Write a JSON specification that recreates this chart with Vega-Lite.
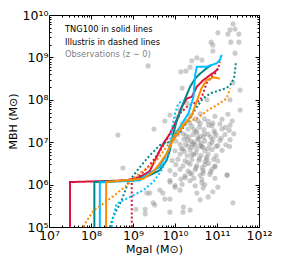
{
  "$schema": "https://vega.github.io/schema/vega-lite/v6.json",
  "width": 210,
  "height": 212,
  "autosize": "none",
  "padding": {"left": 49, "top": 15, "right": 26, "bottom": 32},
  "config": {
    "font": "DejaVu Sans",
    "view": {"stroke": null},
    "axis": {"grid": false, "domainColor": "black", "tickColor": "black", "labelColor": "black", "titleColor": "black", "labelFont": "DejaVu Sans", "titleFont": "DejaVu Sans", "titleFontWeight": "normal", "domainWidth": 1, "tickWidth": 1, "labelFlush": false, "labelOverlap": false, "labelBound": false}
  },
  "datasets": {
    "obs": [
      {"m": 11.38, "b": 9.79}, {"m": 11.31, "b": 9.65}, {"m": 11.43, "b": 9.67}, {"m": 11.26, "b": 9.55}, {"m": 11.52, "b": 9.55},
      {"m": 11.02, "b": 9.58}, {"m": 10.86, "b": 9.36}, {"m": 10.90, "b": 9.29}, {"m": 11.33, "b": 9.36}, {"m": 11.52, "b": 9.36},
      {"m": 10.90, "b": 9.15}, {"m": 11.43, "b": 9.10}, {"m": 10.52, "b": 8.99}, {"m": 10.40, "b": 8.92}, {"m": 10.64, "b": 8.94},
      {"m": 10.26, "b": 8.68}, {"m": 10.14, "b": 8.66}, {"m": 10.36, "b": 8.77}, {"m": 9.36, "b": 8.80}, {"m": 11.38, "b": 8.40},
      {"m": 11.55, "b": 8.23}, {"m": 10.17, "b": 8.28}, {"m": 10.29, "b": 7.92}, {"m": 10.76, "b": 8.00}, {"m": 11.31, "b": 8.00},
      {"m": 11.55, "b": 7.76}, {"m": 10.12, "b": 7.76}, {"m": 10.05, "b": 7.59}, {"m": 9.88, "b": 7.64}, {"m": 9.50, "b": 7.31},
      {"m": 9.76, "b": 7.50}, {"m": 8.64, "b": 7.17}, {"m": 8.76, "b": 6.39}, {"m": 10.00, "b": 7.24},
      {"m": 10.36, "b": 7.62}, {"m": 10.60, "b": 7.67}, {"m": 10.95, "b": 7.61}, {"m": 11.26, "b": 7.66},
      {"m": 10.24, "b": 7.50}, {"m": 10.48, "b": 7.55}, {"m": 10.79, "b": 7.49}, {"m": 11.12, "b": 7.54}, {"m": 11.36, "b": 7.50},
      {"m": 10.17, "b": 7.43}, {"m": 10.40, "b": 7.38}, {"m": 10.60, "b": 7.44}, {"m": 10.88, "b": 7.39}, {"m": 11.07, "b": 7.43}, {"m": 11.31, "b": 7.40},
      {"m": 10.12, "b": 7.27}, {"m": 10.31, "b": 7.31}, {"m": 10.50, "b": 7.26}, {"m": 10.69, "b": 7.30}, {"m": 10.93, "b": 7.27}, {"m": 11.12, "b": 7.31}, {"m": 11.29, "b": 7.28},
      {"m": 10.07, "b": 7.19}, {"m": 10.26, "b": 7.15}, {"m": 10.43, "b": 7.18}, {"m": 10.60, "b": 7.14}, {"m": 10.79, "b": 7.19}, {"m": 10.98, "b": 7.16}, {"m": 11.19, "b": 7.18},
      {"m": 10.02, "b": 7.03}, {"m": 10.21, "b": 7.07}, {"m": 10.38, "b": 7.02}, {"m": 10.55, "b": 7.06}, {"m": 10.71, "b": 7.03}, {"m": 10.90, "b": 7.07}, {"m": 11.07, "b": 7.04}, {"m": 11.31, "b": 7.06},
      {"m": 10.12, "b": 6.95}, {"m": 10.31, "b": 6.91}, {"m": 10.48, "b": 6.94}, {"m": 10.64, "b": 6.90}, {"m": 10.83, "b": 6.95}, {"m": 11.02, "b": 6.92}, {"m": 11.21, "b": 6.94},
      {"m": 10.00, "b": 6.80}, {"m": 10.19, "b": 6.84}, {"m": 10.36, "b": 6.81}, {"m": 10.52, "b": 6.84}, {"m": 10.71, "b": 6.80}, {"m": 10.88, "b": 6.83}, {"m": 11.12, "b": 6.81},
      {"m": 10.12, "b": 6.72}, {"m": 10.29, "b": 6.68}, {"m": 10.45, "b": 6.71}, {"m": 10.62, "b": 6.69}, {"m": 10.79, "b": 6.72}, {"m": 10.98, "b": 6.68},
      {"m": 9.93, "b": 6.57}, {"m": 10.07, "b": 6.60}, {"m": 10.24, "b": 6.56}, {"m": 10.40, "b": 6.59}, {"m": 10.57, "b": 6.57}, {"m": 10.76, "b": 6.60}, {"m": 11.02, "b": 6.56},
      {"m": 10.02, "b": 6.47}, {"m": 10.19, "b": 6.44}, {"m": 10.36, "b": 6.48}, {"m": 10.52, "b": 6.45}, {"m": 10.71, "b": 6.47}, {"m": 10.95, "b": 6.44},
      {"m": 9.88, "b": 6.33}, {"m": 10.12, "b": 6.36}, {"m": 10.31, "b": 6.32}, {"m": 10.48, "b": 6.35}, {"m": 10.67, "b": 6.33}, {"m": 10.88, "b": 6.36},
      {"m": 10.00, "b": 6.24}, {"m": 10.24, "b": 6.21}, {"m": 10.40, "b": 6.25}, {"m": 10.60, "b": 6.22}, {"m": 10.83, "b": 6.24}, {"m": 11.24, "b": 6.22},
      {"m": 9.88, "b": 6.10}, {"m": 10.14, "b": 6.13}, {"m": 10.36, "b": 6.09}, {"m": 10.64, "b": 6.12},
      {"m": 10.00, "b": 5.98}, {"m": 10.17, "b": 6.01}, {"m": 10.48, "b": 5.97}, {"m": 10.71, "b": 6.00},
      {"m": 10.55, "b": 7.10}, {"m": 10.62, "b": 6.98}, {"m": 10.70, "b": 7.20}, {"m": 10.45, "b": 7.00}, {"m": 10.50, "b": 6.75},
      {"m": 10.66, "b": 6.88}, {"m": 10.58, "b": 7.35}, {"m": 10.85, "b": 7.12}, {"m": 10.95, "b": 7.22}, {"m": 10.40, "b": 6.88},
      {"m": 10.30, "b": 7.05}, {"m": 10.75, "b": 6.65}, {"m": 10.45, "b": 7.30}, {"m": 10.25, "b": 6.95}, {"m": 10.80, "b": 7.40},
      {"m": 10.33, "b": 7.12}, {"m": 10.52, "b": 7.22}, {"m": 10.68, "b": 7.12}, {"m": 10.88, "b": 7.00}, {"m": 10.40, "b": 6.70},
      {"m": 10.58, "b": 6.62}, {"m": 10.72, "b": 6.55}, {"m": 10.30, "b": 6.52}, {"m": 10.50, "b": 6.40}, {"m": 10.65, "b": 6.40},
      {"m": 10.80, "b": 6.50}, {"m": 10.92, "b": 6.60}, {"m": 10.22, "b": 6.78}, {"m": 10.42, "b": 6.95}, {"m": 10.60, "b": 6.92},
      {"m": 10.78, "b": 6.85}, {"m": 10.98, "b": 6.90}, {"m": 11.10, "b": 7.10}, {"m": 11.20, "b": 7.35}, {"m": 10.90, "b": 7.45},
      {"m": 10.70, "b": 7.55}, {"m": 10.55, "b": 7.50}, {"m": 10.35, "b": 7.45}, {"m": 10.20, "b": 7.20}, {"m": 10.15, "b": 6.85},
      {"m": 11.30, "b": 6.90}, {"m": 11.40, "b": 7.20}, {"m": 10.85, "b": 6.30}, {"m": 10.45, "b": 6.15}, {"m": 10.95, "b": 6.15},
      {"m": 9.88, "b": 6.06}, {"m": 10.00, "b": 5.94}, {"m": 10.12, "b": 5.87}, {"m": 9.40, "b": 5.80}, {"m": 9.33, "b": 5.80},
      {"m": 9.71, "b": 5.80}, {"m": 9.76, "b": 5.66}, {"m": 9.88, "b": 5.66}, {"m": 9.52, "b": 5.52}, {"m": 9.07, "b": 5.42},
      {"m": 9.29, "b": 5.42}, {"m": 9.29, "b": 5.31}, {"m": 9.88, "b": 5.35}, {"m": 10.19, "b": 5.35}, {"m": 10.36, "b": 5.40},
      {"m": 10.90, "b": 5.83}, {"m": 10.67, "b": 5.92}, {"m": 10.52, "b": 5.80}, {"m": 11.24, "b": 6.23}, {"m": 10.95, "b": 6.42},
      {"m": 10.67, "b": 6.27}, {"m": 10.36, "b": 6.27}, {"m": 10.24, "b": 6.16}, {"m": 10.64, "b": 6.04}, {"m": 10.60, "b": 5.64},
      {"m": 10.79, "b": 5.71}, {"m": 11.02, "b": 5.94}, {"m": 11.38, "b": 5.57}, {"m": 9.48, "b": 5.57}, {"m": 9.64, "b": 5.87},
      {"m": 10.20, "b": 5.47}
    ],
    "sims": [
      {"h": "a", "s": "TNG100", "i": 0, "x": 7.50, "y": 5.00}, {"h": "a", "s": "TNG100", "i": 1, "x": 7.50, "y": 6.06},
      {"h": "a", "s": "TNG100", "i": 2, "x": 8.21, "y": 6.08}, {"h": "a", "s": "TNG100", "i": 3, "x": 8.85, "y": 6.10},
      {"h": "a", "s": "TNG100", "i": 4, "x": 9.17, "y": 6.18}, {"h": "a", "s": "TNG100", "i": 5, "x": 9.40, "y": 6.32},
      {"h": "a", "s": "TNG100", "i": 6, "x": 9.56, "y": 6.65}, {"h": "a", "s": "TNG100", "i": 7, "x": 9.72, "y": 6.97},
      {"h": "a", "s": "TNG100", "i": 8, "x": 9.88, "y": 7.20}, {"h": "a", "s": "TNG100", "i": 9, "x": 10.04, "y": 7.52},
      {"h": "a", "s": "TNG100", "i": 10, "x": 10.16, "y": 7.83}, {"h": "a", "s": "TNG100", "i": 11, "x": 10.28, "y": 8.03},
      {"h": "a", "s": "TNG100", "i": 12, "x": 10.40, "y": 8.07}, {"h": "a", "s": "TNG100", "i": 13, "x": 10.52, "y": 8.31},
      {"h": "a", "s": "TNG100", "i": 14, "x": 10.67, "y": 8.46}, {"h": "a", "s": "TNG100", "i": 15, "x": 10.83, "y": 8.58},
      {"h": "a", "s": "TNG100", "i": 16, "x": 10.95, "y": 8.66}, {"h": "a", "s": "TNG100", "i": 17, "x": 11.03, "y": 8.74},

      {"h": "a", "s": "Illustris", "i": 0, "x": 8.97, "y": 5.00}, {"h": "a", "s": "Illustris", "i": 1, "x": 8.97, "y": 6.08},
      {"h": "a", "s": "Illustris", "i": 2, "x": 9.17, "y": 6.22}, {"h": "a", "s": "Illustris", "i": 3, "x": 9.40, "y": 6.46},
      {"h": "a", "s": "Illustris", "i": 4, "x": 9.60, "y": 6.73}, {"h": "a", "s": "Illustris", "i": 5, "x": 9.80, "y": 7.05},
      {"h": "a", "s": "Illustris", "i": 6, "x": 9.96, "y": 7.36}, {"h": "a", "s": "Illustris", "i": 7, "x": 10.12, "y": 7.68},
      {"h": "a", "s": "Illustris", "i": 8, "x": 10.28, "y": 7.83}, {"h": "a", "s": "Illustris", "i": 9, "x": 10.44, "y": 7.91},
      {"h": "a", "s": "Illustris", "i": 10, "x": 10.60, "y": 7.99}, {"h": "a", "s": "Illustris", "i": 11, "x": 10.67, "y": 8.15},
      {"h": "a", "s": "Illustris", "i": 12, "x": 10.75, "y": 8.39}, {"h": "a", "s": "Illustris", "i": 13, "x": 10.87, "y": 8.54},
      {"h": "a", "s": "Illustris", "i": 14, "x": 10.95, "y": 8.62}, {"h": "a", "s": "Illustris", "i": 15, "x": 11.03, "y": 8.74},
      {"h": "a", "s": "Illustris", "i": 16, "x": 11.07, "y": 8.90},

      {"h": "b", "s": "TNG100", "i": 0, "x": 8.08, "y": 5.00}, {"h": "b", "s": "TNG100", "i": 1, "x": 8.08, "y": 6.06},
      {"h": "b", "s": "TNG100", "i": 2, "x": 8.53, "y": 6.08}, {"h": "b", "s": "TNG100", "i": 3, "x": 9.01, "y": 6.10},
      {"h": "b", "s": "TNG100", "i": 4, "x": 9.40, "y": 6.22}, {"h": "b", "s": "TNG100", "i": 5, "x": 9.64, "y": 6.34},
      {"h": "b", "s": "TNG100", "i": 6, "x": 9.80, "y": 6.57}, {"h": "b", "s": "TNG100", "i": 7, "x": 9.88, "y": 6.81},
      {"h": "b", "s": "TNG100", "i": 8, "x": 9.92, "y": 7.05}, {"h": "b", "s": "TNG100", "i": 9, "x": 9.96, "y": 7.20},
      {"h": "b", "s": "TNG100", "i": 10, "x": 10.04, "y": 7.50}, {"h": "b", "s": "TNG100", "i": 11, "x": 10.16, "y": 7.83},
      {"h": "b", "s": "TNG100", "i": 12, "x": 10.28, "y": 8.12}, {"h": "b", "s": "TNG100", "i": 13, "x": 10.36, "y": 8.31},
      {"h": "b", "s": "TNG100", "i": 14, "x": 10.48, "y": 8.50}, {"h": "b", "s": "TNG100", "i": 15, "x": 10.60, "y": 8.62},
      {"h": "b", "s": "TNG100", "i": 16, "x": 10.75, "y": 8.74}, {"h": "b", "s": "TNG100", "i": 17, "x": 10.87, "y": 8.82},

      {"h": "b", "s": "Illustris", "i": 0, "x": 8.45, "y": 5.00}, {"h": "b", "s": "Illustris", "i": 1, "x": 8.53, "y": 5.24},
      {"h": "b", "s": "Illustris", "i": 2, "x": 8.73, "y": 5.63}, {"h": "b", "s": "Illustris", "i": 3, "x": 8.89, "y": 6.06},
      {"h": "b", "s": "Illustris", "i": 4, "x": 9.17, "y": 6.42}, {"h": "b", "s": "Illustris", "i": 5, "x": 9.40, "y": 6.69},
      {"h": "b", "s": "Illustris", "i": 6, "x": 9.64, "y": 6.93}, {"h": "b", "s": "Illustris", "i": 7, "x": 9.88, "y": 7.01},
      {"h": "b", "s": "Illustris", "i": 8, "x": 10.12, "y": 7.24}, {"h": "b", "s": "Illustris", "i": 9, "x": 10.36, "y": 7.57},
      {"h": "b", "s": "Illustris", "i": 10, "x": 10.52, "y": 7.83}, {"h": "b", "s": "Illustris", "i": 11, "x": 10.67, "y": 8.04},
      {"h": "b", "s": "Illustris", "i": 12, "x": 10.87, "y": 8.16}, {"h": "b", "s": "Illustris", "i": 13, "x": 11.23, "y": 8.28},
      {"h": "b", "s": "Illustris", "i": 14, "x": 11.35, "y": 8.39}, {"h": "b", "s": "Illustris", "i": 15, "x": 11.41, "y": 8.54},
      {"h": "b", "s": "Illustris", "i": 16, "x": 11.44, "y": 8.78}, {"h": "b", "s": "Illustris", "i": 17, "x": 11.45, "y": 8.90},

      {"h": "c", "s": "TNG100", "i": 0, "x": 8.21, "y": 5.00}, {"h": "c", "s": "TNG100", "i": 1, "x": 8.21, "y": 6.05},
      {"h": "c", "s": "TNG100", "i": 2, "x": 9.17, "y": 6.10}, {"h": "c", "s": "TNG100", "i": 3, "x": 9.25, "y": 6.18},
      {"h": "c", "s": "TNG100", "i": 4, "x": 9.64, "y": 6.42}, {"h": "c", "s": "TNG100", "i": 5, "x": 9.84, "y": 6.81},
      {"h": "c", "s": "TNG100", "i": 6, "x": 9.96, "y": 7.13}, {"h": "c", "s": "TNG100", "i": 7, "x": 10.12, "y": 7.36},
      {"h": "c", "s": "TNG100", "i": 8, "x": 10.32, "y": 7.68}, {"h": "c", "s": "TNG100", "i": 9, "x": 10.44, "y": 8.07},
      {"h": "c", "s": "TNG100", "i": 10, "x": 10.48, "y": 8.58}, {"h": "c", "s": "TNG100", "i": 11, "x": 10.52, "y": 8.78},
      {"h": "c", "s": "TNG100", "i": 12, "x": 10.75, "y": 8.78}, {"h": "c", "s": "TNG100", "i": 13, "x": 10.99, "y": 8.86},
      {"h": "c", "s": "TNG100", "i": 14, "x": 11.07, "y": 8.94}, {"h": "c", "s": "TNG100", "i": 15, "x": 11.11, "y": 9.06},

      {"h": "c", "s": "Illustris", "i": 0, "x": 8.49, "y": 5.00}, {"h": "c", "s": "Illustris", "i": 1, "x": 8.53, "y": 5.24},
      {"h": "c", "s": "Illustris", "i": 2, "x": 8.61, "y": 5.55}, {"h": "c", "s": "Illustris", "i": 3, "x": 8.93, "y": 5.71},
      {"h": "c", "s": "Illustris", "i": 4, "x": 9.25, "y": 5.87}, {"h": "c", "s": "Illustris", "i": 5, "x": 9.48, "y": 6.06},
      {"h": "c", "s": "Illustris", "i": 6, "x": 9.68, "y": 6.34}, {"h": "c", "s": "Illustris", "i": 7, "x": 9.84, "y": 6.73},
      {"h": "c", "s": "Illustris", "i": 8, "x": 9.92, "y": 7.28}, {"h": "c", "s": "Illustris", "i": 9, "x": 10.00, "y": 7.68},
      {"h": "c", "s": "Illustris", "i": 10, "x": 10.08, "y": 7.91}, {"h": "c", "s": "Illustris", "i": 11, "x": 10.20, "y": 7.99},

      {"h": "d", "s": "TNG100", "i": 0, "x": 8.36, "y": 5.00}, {"h": "d", "s": "TNG100", "i": 1, "x": 8.36, "y": 6.06},
      {"h": "d", "s": "TNG100", "i": 2, "x": 9.25, "y": 6.14}, {"h": "d", "s": "TNG100", "i": 3, "x": 9.48, "y": 6.30},
      {"h": "d", "s": "TNG100", "i": 4, "x": 9.64, "y": 6.50}, {"h": "d", "s": "TNG100", "i": 5, "x": 9.80, "y": 6.73},
      {"h": "d", "s": "TNG100", "i": 6, "x": 9.96, "y": 7.05}, {"h": "d", "s": "TNG100", "i": 7, "x": 10.12, "y": 7.28},
      {"h": "d", "s": "TNG100", "i": 8, "x": 10.40, "y": 7.64}, {"h": "d", "s": "TNG100", "i": 9, "x": 10.63, "y": 8.27},
      {"h": "d", "s": "TNG100", "i": 10, "x": 10.75, "y": 8.46}, {"h": "d", "s": "TNG100", "i": 11, "x": 10.91, "y": 8.53},
      {"h": "d", "s": "TNG100", "i": 12, "x": 11.07, "y": 8.50},

      {"h": "d", "s": "Illustris", "i": 0, "x": 7.82, "y": 5.00}, {"h": "d", "s": "Illustris", "i": 1, "x": 7.91, "y": 5.16},
      {"h": "d", "s": "Illustris", "i": 2, "x": 8.06, "y": 5.39}, {"h": "d", "s": "Illustris", "i": 3, "x": 8.29, "y": 5.55},
      {"h": "d", "s": "Illustris", "i": 4, "x": 8.61, "y": 5.79}, {"h": "d", "s": "Illustris", "i": 5, "x": 8.85, "y": 5.98},
      {"h": "d", "s": "Illustris", "i": 6, "x": 9.09, "y": 6.22}, {"h": "d", "s": "Illustris", "i": 7, "x": 9.33, "y": 6.38},
      {"h": "d", "s": "Illustris", "i": 8, "x": 9.56, "y": 6.57}, {"h": "d", "s": "Illustris", "i": 9, "x": 9.80, "y": 6.89},
      {"h": "d", "s": "Illustris", "i": 10, "x": 9.96, "y": 7.13}, {"h": "d", "s": "Illustris", "i": 11, "x": 10.20, "y": 7.44},
      {"h": "d", "s": "Illustris", "i": 12, "x": 10.52, "y": 7.56}, {"h": "d", "s": "Illustris", "i": 13, "x": 10.79, "y": 7.76},
      {"h": "d", "s": "Illustris", "i": 14, "x": 10.99, "y": 7.87}, {"h": "d", "s": "Illustris", "i": 15, "x": 11.23, "y": 8.03},
      {"h": "d", "s": "Illustris", "i": 16, "x": 11.31, "y": 8.27}
    ],
    "notes": [
      {"note": "TNG100 in solid lines", "x": 7.38, "y": 9.65, "kind": "sim"},
      {"note": "Illustris in dashed lines", "x": 7.38, "y": 9.35, "kind": "sim"},
      {"note": "Observations (z ∼ 0)", "x": 7.38, "y": 9.06, "kind": "obs"}
    ]
  },
  "layer": [
    {
      "data": {"name": "obs"},
      "mark": {"type": "circle", "size": 26, "color": "#808080", "opacity": 0.4},
      "encoding": {
        "x": {"field": "m", "type": "quantitative", "scale": {"domain": [7, 12], "nice": false, "zero": false},
          "axis": {"orient": "bottom", "values": [7, 8, 9, 10, 11, 12], "labelExpr": "'10' + ['⁰','¹','²','³','⁴','⁵','⁶','⁷','⁸','⁹','¹⁰','¹¹','¹²'][datum.value]", "tickSize": -4, "labelPadding": 6, "labelFontSize": 12.5, "title": "Mgal (M⊙)", "titleFontSize": 11, "titlePadding": 2}},
        "y": {"field": "b", "type": "quantitative", "scale": {"domain": [5, 10], "nice": false, "zero": false},
          "axis": {"orient": "left", "values": [5, 6, 7, 8, 9, 10], "labelExpr": "'10' + ['⁰','¹','²','³','⁴','⁵','⁶','⁷','⁸','⁹','¹⁰','¹¹','¹²'][datum.value]", "tickSize": -4, "labelPadding": 5, "labelFontSize": 12.5, "title": "MBH (M⊙)", "titleFontSize": 11, "titlePadding": 4}}
      }
    },
    {
      "data": {"name": "sims"},
      "mark": {"type": "line", "strokeWidth": 2, "strokeCap": "butt"},
      "encoding": {
        "x": {"field": "x", "type": "quantitative", "scale": {"domain": [7, 12], "nice": false, "zero": false},
          "axis": {"orient": "bottom", "values": [7.301, 7.477, 7.602, 7.699, 7.778, 7.845, 7.903, 7.954, 8.301, 8.477, 8.602, 8.699, 8.778, 8.845, 8.903, 8.954, 9.301, 9.477, 9.602, 9.699, 9.778, 9.845, 9.903, 9.954, 10.301, 10.477, 10.602, 10.699, 10.778, 10.845, 10.903, 10.954, 11.301, 11.477, 11.602, 11.699, 11.778, 11.845, 11.903, 11.954], "labels": false, "tickSize": -2, "domain": false, "title": null}},
        "y": {"field": "y", "type": "quantitative", "scale": {"domain": [5, 10], "nice": false, "zero": false},
          "axis": {"orient": "left", "values": [5.301, 5.477, 5.602, 5.699, 5.778, 5.845, 5.903, 5.954, 6.301, 6.477, 6.602, 6.699, 6.778, 6.845, 6.903, 6.954, 7.301, 7.477, 7.602, 7.699, 7.778, 7.845, 7.903, 7.954, 8.301, 8.477, 8.602, 8.699, 8.778, 8.845, 8.903, 8.954, 9.301, 9.477, 9.602, 9.699, 9.778, 9.845, 9.903, 9.954], "labels": false, "tickSize": -2, "domain": false, "title": null}},
        "order": {"field": "i", "type": "quantitative"},
        "color": {"field": "h", "type": "nominal", "scale": {"domain": ["a", "b", "c", "d"], "range": ["#DC143C", "#00878A", "#00BFFF", "#FF8C00"]}, "legend": null},
        "strokeDash": {"field": "s", "type": "nominal", "scale": {"domain": ["TNG100", "Illustris"], "range": [[1, 0], [2, 2.2]]}, "legend": null}
      }
    },
    {
      "data": {"name": "notes"},
      "mark": {"type": "text", "align": "left", "baseline": "middle", "fontSize": 8.3, "font": "DejaVu Sans"},
      "encoding": {
        "x": {"field": "x", "type": "quantitative", "scale": {"domain": [7, 12], "nice": false, "zero": false},
          "axis": {"orient": "top", "values": [7, 8, 9, 10, 11, 12], "labels": false, "tickSize": -4, "title": null}},
        "y": {"field": "y", "type": "quantitative", "scale": {"domain": [5, 10], "nice": false, "zero": false},
          "axis": {"orient": "right", "values": [5, 6, 7, 8, 9, 10], "labels": false, "tickSize": -4, "title": null}},
        "text": {"field": "note"},
        "color": {"condition": {"test": "datum.kind == 'obs'", "value": "#7f7f7f"}, "value": "black"}
      }
    },
    {
      "data": {"name": "notes"},
      "mark": {"type": "point", "opacity": 0},
      "encoding": {
        "x": {"field": "x", "type": "quantitative", "scale": {"domain": [7, 12], "nice": false, "zero": false},
          "axis": {"orient": "top", "values": [7.301, 7.477, 7.602, 7.699, 7.778, 7.845, 7.903, 7.954, 8.301, 8.477, 8.602, 8.699, 8.778, 8.845, 8.903, 8.954, 9.301, 9.477, 9.602, 9.699, 9.778, 9.845, 9.903, 9.954, 10.301, 10.477, 10.602, 10.699, 10.778, 10.845, 10.903, 10.954, 11.301, 11.477, 11.602, 11.699, 11.778, 11.845, 11.903, 11.954], "labels": false, "tickSize": -2, "domain": false, "title": null}},
        "y": {"field": "y", "type": "quantitative", "scale": {"domain": [5, 10], "nice": false, "zero": false},
          "axis": {"orient": "right", "values": [5.301, 5.477, 5.602, 5.699, 5.778, 5.845, 5.903, 5.954, 6.301, 6.477, 6.602, 6.699, 6.778, 6.845, 6.903, 6.954, 7.301, 7.477, 7.602, 7.699, 7.778, 7.845, 7.903, 7.954, 8.301, 8.477, 8.602, 8.699, 8.778, 8.845, 8.903, 8.954, 9.301, 9.477, 9.602, 9.699, 9.778, 9.845, 9.903, 9.954], "labels": false, "tickSize": -2, "domain": false, "title": null}}
      }
    }
  ],
  "resolve": {"axis": {"x": "independent", "y": "independent"}}
}
